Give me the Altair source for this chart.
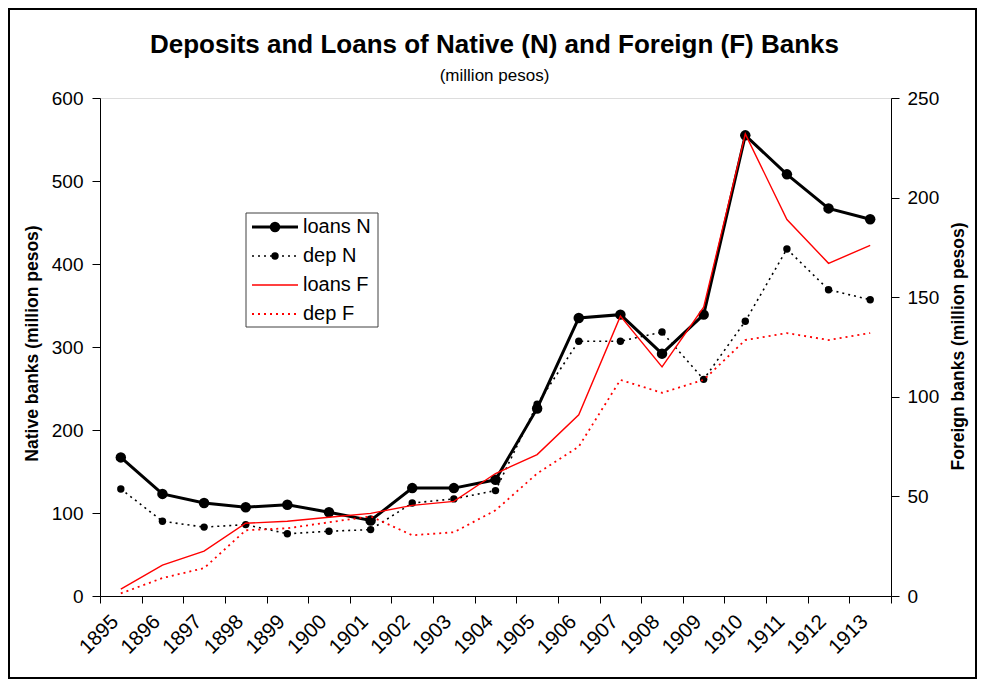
import altair as alt
import pandas as pd

# ---- data ----
years = [str(y) for y in range(1895, 1914)]
loans_N = [167, 123, 112, 107, 110, 101, 91, 130, 130, 140, 226, 335, 339, 292, 339, 555, 508, 467, 454]
dep_N = [129, 90, 83, 86, 75, 78, 80, 112, 117, 127, 231, 307, 307, 318, 261, 331, 418, 369, 357]
loans_F = [3.5, 15.5, 22.5, 36.5, 37.5, 39.5, 41.5, 45.5, 47.5, 61.5, 71, 91, 140.5, 115, 145, 232, 189, 167, 176]
dep_F = [1.3, 9, 14, 33, 34, 37, 40, 30.5, 32, 43, 61.5, 75, 108.5, 102, 108.5, 128.5, 132, 128.5, 132]
series_names = ["loans N", "dep N", "loans F", "dep F"]
native_ticks = [0, 100, 200, 300, 400, 500, 600]
foreign_ticks = [0, 50, 100, 150, 200, 250]
title_text = "Deposits and Loans of Native (N) and Foreign (F) Banks"
subtitle_text = "(million pesos)"

FONT = "Liberation Sans"
W, H = 791, 498
PAD_L, PAD_T, PAD_R, PAD_B = 92, 90, 86, 83

native_df = pd.DataFrame({"year": years, "loans N": loans_N, "dep N": dep_N})
foreign_df = pd.DataFrame({"year": years, "loans F": loans_F, "dep F": dep_F})

x_enc = alt.X(
    "year:O",
    bandPosition=0.5,
    scale=alt.Scale(type="band", paddingInner=0, paddingOuter=0, domain=years),
    axis=alt.Axis(
        title=None, tickBand="extent", labelAngle=315, labelFontSize=20.5,
        labelPadding=8, labelOffset=-13, tickSize=7, domainColor="black", tickColor="black",
        labelColor="black", labelFont=FONT, grid=False,
    ),
)

native_axis = alt.Axis(
    title="Native banks (million pesos)", values=native_ticks, tickSize=8,
    labelPadding=9, labelFontSize=19, labelFont=FONT, labelColor="black",
    titleFontSize=17.5, titleFontWeight="bold", titleFont=FONT, titleColor="black",
    titleX=-68, titleY=245, titleAngle=270, titleBaseline="middle", titleAlign="center",
    grid=False, domainColor="black", tickColor="black",
)
foreign_axis = alt.Axis(
    orient="right",
    title="Foreign banks (million pesos)", values=foreign_ticks, tickSize=8,
    labelPadding=8, labelFontSize=19, labelFont=FONT, labelColor="black",
    titleFontSize=17.5, titleFontWeight="bold", titleFont=FONT, titleColor="black",
    titleX=67, titleY=248, titleAngle=270, titleBaseline="middle", titleAlign="center",
    grid=False, domainColor="black", tickColor="black",
)

def ny(field):
    return alt.Y(f"{field}:Q", scale=alt.Scale(domain=[0, 600]), axis=native_axis)

def fy(field):
    return alt.Y(f"{field}:Q", scale=alt.Scale(domain=[0, 250]), axis=foreign_axis)

base_n = alt.Chart(native_df)
base_f = alt.Chart(foreign_df)

native = alt.layer(
    base_n.mark_line(color="black", strokeWidth=3).encode(x=x_enc, y=ny("loans N")),
    base_n.mark_circle(color="black", size=110, opacity=1).encode(x=x_enc, y=ny("loans N")),
    base_n.mark_line(color="black", strokeWidth=1.6, strokeDash=[2, 4]).encode(x=x_enc, y=ny("dep N")),
    base_n.mark_circle(color="black", size=55, opacity=1).encode(x=x_enc, y=ny("dep N")),
)
foreign = alt.layer(
    base_f.mark_line(color="#ff0000", strokeWidth=1.4).encode(x=x_enc, y=fy("loans F")),
    base_f.mark_line(color="#ff0000", strokeWidth=1.8, strokeDash=[2, 4]).encode(x=x_enc, y=fy("dep F")),
)

# ---- manual legend (decoration) ----
LX0, LX1, LY0, LY1 = 146, 278, 115, 229
row_y = [129 + 29 * i for i in range(4)]
sym_x0, sym_x1, sym_c, txt_x = 152, 198, 175, 203
one = pd.DataFrame({"k": [0]})

legend_layers = [
    alt.Chart(one).mark_rect(fill="white", stroke="#404040", strokeWidth=1).encode(
        x=alt.value(LX0), x2=alt.value(LX1), y=alt.value(LY0), y2=alt.value(LY1)
    )
]
sym_styles = [
    dict(color="black", strokeWidth=3),
    dict(color="black", strokeWidth=1.6, strokeDash=[2, 4]),
    dict(color="#ff0000", strokeWidth=1.4),
    dict(color="#ff0000", strokeWidth=1.8, strokeDash=[2, 4]),
]
dot_sizes = [110, 55, None, None]
for i, name in enumerate(series_names):
    d = pd.DataFrame({"label": [name]})
    legend_layers.append(
        alt.Chart(d).mark_rule(**sym_styles[i]).encode(
            x=alt.value(sym_x0), x2=alt.value(sym_x1), y=alt.value(row_y[i])
        )
    )
    if dot_sizes[i]:
        legend_layers.append(
            alt.Chart(d).mark_circle(color="black", size=dot_sizes[i], opacity=1).encode(
                x=alt.value(sym_c), y=alt.value(row_y[i])
            )
        )
    legend_layers.append(
        alt.Chart(d).mark_text(align="left", baseline="middle", fontSize=20, font=FONT, color="black").encode(
            x=alt.value(txt_x), y=alt.value(row_y[i]), text="label:N"
        )
    )

# ---- titles as text marks ----
title_df = pd.DataFrame({"t": [title_text]})
subtitle_df = pd.DataFrame({"t": [subtitle_text]})
title_layer = alt.Chart(title_df).mark_text(
    align="center", baseline="alphabetic", fontSize=26, fontWeight="bold", font=FONT, color="black"
).encode(x=alt.value(W / 2 - 1), y=alt.value(-45), text="t:N")
subtitle_layer = alt.Chart(subtitle_df).mark_text(
    align="center", baseline="alphabetic", fontSize=17, font=FONT, color="black"
).encode(x=alt.value(W / 2 - 1), y=alt.value(-17), text="t:N")

frame = alt.Chart(one).mark_rect(filled=False, stroke="black", strokeWidth=2).encode(
    x=alt.value(-PAD_L + 1), x2=alt.value(W + PAD_R - 1),
    y=alt.value(-PAD_T + 1), y2=alt.value(H + PAD_B - 1),
)

chart = alt.layer(
    native, foreign, *legend_layers, title_layer, subtitle_layer, frame
).resolve_scale(y="independent").properties(
    width=W, height=H,
    autosize=alt.AutoSizeParams(type="none"),
    padding={"left": PAD_L, "top": PAD_T, "right": PAD_R, "bottom": PAD_B},
).configure_view(stroke="#808080", strokeWidth=1).configure(font=FONT, background="white")

chart.save("out.html", embed_options={"renderer": "svg", "actions": False})
